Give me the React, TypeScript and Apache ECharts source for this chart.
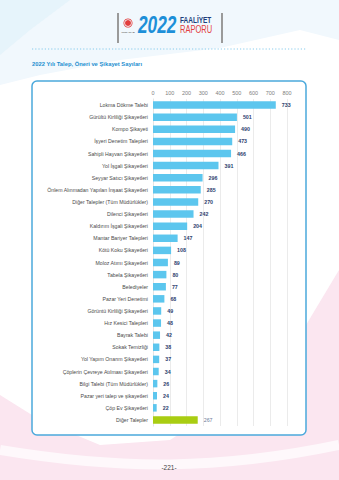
import React, { useEffect, useRef } from "react";
import * as echarts from "echarts";

const categories = [
  "Lokma Dökme Talebi",
  "Gürültü Kirliliği Şikayetleri",
  "Kompo Şikayeti",
  "İşyeri Denetim Talepleri",
  "Sahipli Hayvan Şikayetleri",
  "Yol İşgali Şikayetleri",
  "Seyyar Satıcı Şikayetleri",
  "Önlem Alınmadan Yapılan İnşaat Şikayetleri",
  "Diğer Talepler (Tüm Müdürlükler)",
  "Dilenci Şikayetleri",
  "Kaldırım İşgali Şikayetleri",
  "Mantar Bariyer Talepleri",
  "Kötü Koku Şikayetleri",
  "Moloz Atımı Şikayetleri",
  "Tabela Şikayetleri",
  "Belediyeler",
  "Pazar Yeri Denetimi",
  "Görüntü Kirliliği Şikayetleri",
  "Hız Kesici Talepleri",
  "Bayrak Talebi",
  "Sokak Temizliği",
  "Yol Yapım Onarım Şikayetleri",
  "Çöplerin Çevreye Atılması Şikayetleri",
  "Bilgi Talebi (Tüm Müdürlükler)",
  "Pazar yeri talep ve şikayetleri",
  "Çöp Ev Şikayetleri",
  "Diğer Talepler",
];

const values = [
  733, 501, 490, 473, 466, 391, 296, 285, 270, 242, 204, 147, 108, 89, 80, 77,
  68, 49, 48, 42, 38, 37, 34, 26, 24, 22, 267,
];

const highlighted = ["Diğer Talepler"];

const axisMin = 0;
const axisMax = 800;
const axisStep = 100;

const title = "2022 Yılı Talep, Öneri ve Şikayet Sayıları";
const pageNumber = "-221-";

export default function App() {
  const ref = useRef<HTMLDivElement>(null);

  useEffect(() => {
    document.body.style.margin = "0";
    const chart = echarts.init(ref.current!, undefined, { renderer: "svg" });
    const blue = "#5cc6ee";
    const green = "#a9cd12";

    const option: any = {
      animation: false,
      backgroundColor: "#ffffff",
      grid: { left: 153, right: 52, top: 99, bottom: 54, containLabel: false },
      xAxis: {
        type: "value",
        position: "top",
        min: axisMin,
        max: axisMax,
        interval: axisStep,
        axisLine: { show: false },
        axisTick: { show: false },
        axisLabel: {
          fontSize: 5.5,
          color: "#808080",
          margin: 3,
          fontFamily: "Liberation Sans",
        },
        splitLine: { lineStyle: { color: "#e6e6e6", width: 0.8 } },
        z: 1,
      },
      yAxis: {
        type: "category",
        data: categories,
        inverse: true,
        axisLine: { show: true, lineStyle: { color: "#d9d9d9", width: 0.8 } },
        axisTick: { show: false },
        axisLabel: {
          fontSize: 5.2,
          color: "#4a4a4a",
          margin: 5,
          fontFamily: "Liberation Sans",
        },
      },
      series: [
        {
          type: "bar",
          data: values.map((v, i) => ({
            value: v,
            itemStyle: {
              color: highlighted.includes(categories[i]) ? green : blue,
            },
            label: highlighted.includes(categories[i])
              ? { color: "#6b7a99", fontWeight: "normal" }
              : undefined,
          })),
          barWidth: 7.5,
          label: {
            show: true,
            position: "right",
            distance: 6,
            fontSize: 5.3,
            fontWeight: "bold",
            color: "#2d3e6e",
            fontFamily: "Liberation Sans",
          },
          z: 3,
        },
      ],
      graphic: [
        // background top light blue
        {
          type: "polygon",
          z: -10,
          silent: true,
          shape: {
            points: [
              [0, 0],
              [339, 0],
              [339, 40],
              [300, 30],
              [220, 48],
              [120, 60],
              [40, 75],
              [0, 85],
            ],
          },
          style: { fill: "#f1f8fd" },
        },
        {
          type: "polygon",
          z: -9,
          silent: true,
          shape: {
            points: [
              [0, 0],
              [70, 0],
              [30, 30],
              [0, 55],
            ],
          },
          style: { fill: "#e6f4fb" },
        },
        // background bottom pink
        {
          type: "polygon",
          z: -10,
          silent: true,
          shape: {
            points: [
              [339, 270],
              [300, 335],
              [240, 395],
              [170, 440],
              [100, 445],
              [40, 420],
              [0, 395],
              [0, 480],
              [339, 480],
            ],
          },
          style: { fill: "#fbe6f0" },
        },
        {
          type: "bezierCurve",
          z: -9,
          silent: true,
          shape: {
            x1: 0,
            y1: 450,
            x2: 339,
            y2: 445,
            cpx1: 120,
            cpy1: 470,
            cpx2: 220,
            cpy2: 470,
          },
          style: { stroke: "#ffffff", lineWidth: 10, fill: "none", opacity: 0.7 },
        },
        // chart box
        {
          type: "rect",
          z: -5,
          silent: true,
          shape: { x: 32, y: 81, width: 274, height: 354, r: 5 },
          style: { fill: "#ffffff", stroke: "#4ba9dc", lineWidth: 1.5 },
        },
        // header brackets
        {
          type: "line",
          shape: { x1: 118, y1: 13, x2: 118, y2: 43 },
          style: { stroke: "#9a9a9a", lineWidth: 2 },
        },
        {
          type: "line",
          shape: { x1: 222, y1: 13, x2: 222, y2: 43 },
          style: { stroke: "#9a9a9a", lineWidth: 2 },
        },
        // emblem
        {
          type: "circle",
          shape: { cx: 128, cy: 23, r: 3 },
          style: { fill: "#e23d3d" },
        },
        {
          type: "ring",
          shape: { cx: 128, cy: 23, r: 4.5, r0: 3.8 },
          style: { fill: "#e23d3d" },
        },
        {
          type: "text",
          style: {
            text: "ÜMRANİYE",
            x: 128,
            y: 31,
            align: "center",
            fontSize: 2.5,
            fill: "#333",
          },
        },
        {
          type: "text",
          x: 138,
          y: 24,
          scaleX: 0.72,
          style: {
            text: "2022",
            x: 0,
            y: 0,
            verticalAlign: "middle",
            fontSize: 24,
            fontWeight: "bold",
            fontStyle: "italic",
            fill: "#1d8fd8",
            fontFamily: "Liberation Sans",
          },
        },
        {
          type: "text",
          x: 180,
          y: 20,
          scaleX: 0.72,
          style: {
            text: "FAALİYET",
            x: 0,
            y: 0,
            verticalAlign: "middle",
            fontSize: 9,
            fontWeight: "bold",
            fill: "#1d3f7c",
            fontFamily: "Liberation Sans",
          },
        },
        {
          type: "text",
          x: 180,
          y: 30,
          scaleX: 0.72,
          style: {
            text: "RAPORU",
            x: 0,
            y: 0,
            verticalAlign: "middle",
            fontSize: 10.5,
            fill: "#e2403f",
            fontFamily: "Liberation Sans",
          },
        },
        // dashed separator
        {
          type: "line",
          shape: { x1: 32, y1: 49, x2: 307, y2: 49 },
          style: { stroke: "#6cc0e8", lineWidth: 0.8, lineDash: [1.2, 2] },
        },
        // title
        {
          type: "text",
          style: {
            text: title,
            x: 32,
            y: 64,
            verticalAlign: "middle",
            fontSize: 5.8,
            fontWeight: "bold",
            fill: "#1e8fd0",
            fontFamily: "Liberation Sans",
          },
        },
        // page number
        {
          type: "text",
          style: {
            text: pageNumber,
            x: 169,
            y: 467,
            align: "center",
            verticalAlign: "middle",
            fontSize: 6.5,
            fill: "#444",
            fontFamily: "Liberation Sans",
          },
        },
      ],
    };
    chart.setOption(option);
    return () => chart.dispose();
  }, []);

  return (
    <div
      ref={ref}
      style={{ position: "absolute", left: 0, top: 0, width: 339, height: 480 }}
    />
  );
}
